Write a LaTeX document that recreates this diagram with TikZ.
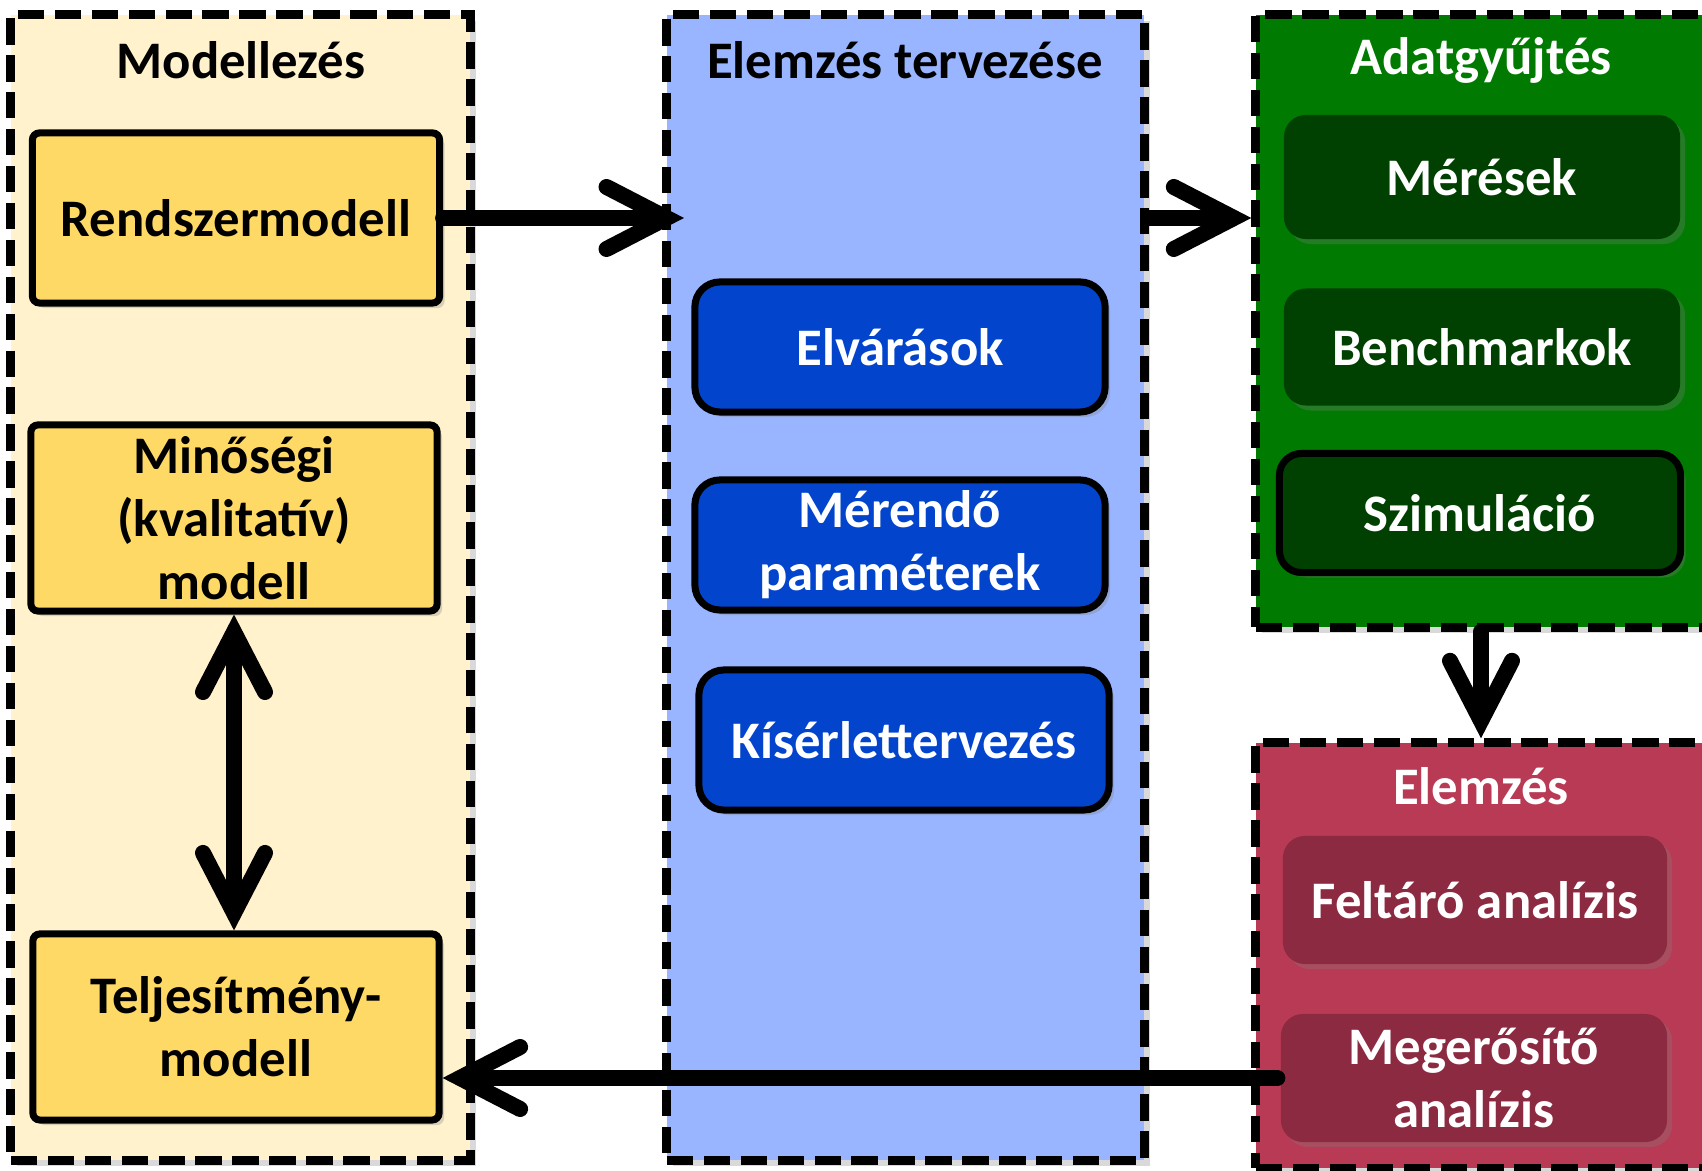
\documentclass[tikz,border=0pt]{standalone}
\usepackage{fontspec}
\setmainfont{Carlito}
\usetikzlibrary{arrows.meta}
\usetikzlibrary{shadows}

\definecolor{modbg}{RGB}{255,242,204}
\definecolor{modbox}{RGB}{255,217,102}
\definecolor{planbg}{RGB}{153,181,255}
\definecolor{planbox}{RGB}{2,68,204}
\definecolor{databg}{RGB}{0,122,0}
\definecolor{databox}{RGB}{0,64,0}
\definecolor{anabg}{RGB}{185,58,85}
\definecolor{anabox}{RGB}{139,42,64}

\tikzset{
  group/.style={draw, line width=2.6pt, dash pattern=on 7.5pt off 3pt,
    drop shadow={opacity=0.3,shadow xshift=0.6mm,shadow yshift=-0.6mm}},
  item/.style={line width=2pt, inner sep=0pt,
    drop shadow={opacity=0.3,shadow xshift=0.5mm,shadow yshift=-0.5mm}},
  grouptitle/.style={font=\fontsize{15}{18}\selectfont\bfseries},
  flow/.style={line width=0.16cm, line cap=round}
}

\begin{document}
\begin{tikzpicture}[x=0.01cm,y=-0.01cm,
    >={Straight Barb[length=0.60cm,width=0.62cm,line cap=round,line join=miter]},
    every node/.style={align=center, font=\fontsize{15}{18}\selectfont\bfseries}]
\useasboundingbox (0,0) rectangle (1702,1171);

% csoportok
\node[group, fill=modbg, minimum width=4.59cm, minimum height=11.45cm] (mod) at (240.5,587.5) {};
\node[group, fill=planbg, minimum width=4.77cm, minimum height=11.45cm] (plan) at (905.5,587.5) {};
\node[group, fill=databg, minimum width=4.50cm, minimum height=6.12cm] (data) at (1481,321) {};
\node[group, fill=anabg, minimum width=4.50cm, minimum height=4.25cm] (ana) at (1481,955.5) {};

\node[grouptitle] (modt) at (241,60) {Modellezés};
\node[grouptitle] (plant) at (905,60) {Elemzés tervezése};
\node[grouptitle, text=white] (datat) at (1481,60) {Adatgyűjtés};
\node[grouptitle, text=white] (anat) at (1481,786) {Elemzés};

% modellek
\node[item, draw, fill=modbox, rounded corners=2pt, minimum width=4.07cm, minimum height=1.70cm] (rsm) at (236,218) {Rendszermodell};
\node[item, draw, fill=modbox, rounded corners=2pt, minimum width=4.06cm, minimum height=1.86cm] (qual) at (234,518) {Minőségi\\(kvalitatív)\\modell};
\node[item, draw, fill=modbox, rounded corners=2pt, minimum width=4.06cm, minimum height=1.86cm] (perf) at (236,1027) {Teljesítmény-\\modell};

% tervezés
\node[item, draw, fill=planbox, text=white, rounded corners=0.25cm, minimum width=4.10cm, minimum height=1.30cm] (elv) at (900,347) {Elvárások};
\node[item, draw, fill=planbox, text=white, rounded corners=0.25cm, minimum width=4.10cm, minimum height=1.30cm] (mer) at (900,545) {Mérendő\\paraméterek};
\node[item, draw, fill=planbox, text=white, rounded corners=0.25cm, minimum width=4.10cm, minimum height=1.40cm] (kis) at (904,740) {Kísérlettervezés};

% adatgyűjtés
\node[item, fill=databox, text=white, rounded corners=0.22cm, minimum width=3.96cm, minimum height=1.24cm] (meres) at (1482,177) {Mérések};
\node[item, fill=databox, text=white, rounded corners=0.22cm, minimum width=3.96cm, minimum height=1.17cm] (bench) at (1482,347) {Benchmarkok};
\node[item, draw, fill=databox, text=white, rounded corners=0.22cm, minimum width=4.01cm, minimum height=1.19cm] (sim) at (1480,513) {Szimuláció};

% elemzés
\node[item, fill=anabox, text=white, rounded corners=0.22cm, minimum width=3.84cm, minimum height=1.28cm] (felt) at (1475,900) {Feltáró analízis};
\node[item, fill=anabox, text=white, rounded corners=0.22cm, minimum width=3.86cm, minimum height=1.28cm] (meg) at (1474,1078) {Megerősítő\\analízis};

\coordinate (planin) at (684,218);

\draw[flow, ->] (rsm.east) -- (planin);
\draw[flow, ->] (plan.east |- rsm.east) -- (data.west |- rsm.east);
\draw[flow, ->] (data.south) -- (ana.north);
\draw[flow, <->] (qual.south) -- (qual.south |- perf.north);
\draw[flow, ->] (meg.west) -- (meg.west -| perf.east);
\end{tikzpicture}
\end{document}
